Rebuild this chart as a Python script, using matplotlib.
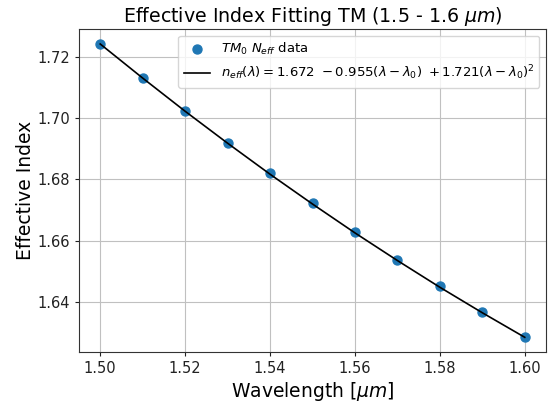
import numpy as np
import matplotlib
matplotlib.use("Agg")
import matplotlib.pyplot as plt

wavelength = [1.50, 1.51, 1.52, 1.53, 1.54, 1.55, 1.56, 1.57, 1.58, 1.59, 1.60]
neff_data = [1.7242, 1.7131, 1.7024, 1.6920, 1.6820, 1.6723, 1.6629, 1.6539, 1.6452, 1.6368, 1.6288]
fit_wavelength = [1.50, 1.51, 1.52, 1.53, 1.54, 1.55, 1.56, 1.57, 1.58, 1.59, 1.60]
fit_values = [1.7241, 1.7130, 1.7022, 1.6918, 1.6817, 1.6720, 1.6626, 1.6536, 1.6449, 1.6366, 1.6286]

fig = plt.figure(figsize=(5.53, 4.03), dpi=100)
ax = fig.add_axes([79/553, 1-352/403, (546-79)/553, (352-29)/403])

ax.scatter(wavelength, neff_data, s=42, color="#1f77b4", zorder=3,
           label=r"$TM_0\ N_{eff}$ data")
ax.plot(fit_wavelength, fit_values, color="black", lw=1.2, zorder=4,
        label=r"$n_{eff}(\lambda) = 1.672\ -0.955(\lambda-\lambda_0)\ +1.721(\lambda-\lambda_0)^2$")

ax.grid(True, color="#c0c0c0", lw=0.8)
ax.set_axisbelow(True)
for s in ax.spines.values():
    s.set_color("#333333")
ax.set_xticks([1.50, 1.52, 1.54, 1.56, 1.58, 1.60])
ax.set_yticks([1.64, 1.66, 1.68, 1.70, 1.72])
ax.xaxis.set_major_formatter(matplotlib.ticker.FormatStrFormatter("%.2f"))
ax.yaxis.set_major_formatter(matplotlib.ticker.FormatStrFormatter("%.2f"))
ax.tick_params(labelsize=10.5, length=3, pad=3.5, colors="#222222")
ax.set_xlabel(r"Wavelength [$\mu m$]", fontsize=13.5, labelpad=3)
ax.set_ylabel("Effective Index", fontsize=13.5, labelpad=1.5)
ax.set_title(r"Effective Index Fitting TM (1.5 - 1.6 $\mu m$)", fontsize=13.7, pad=5)
ax.legend(loc="upper right", fontsize=9.5)

fig.savefig("out.png", dpi=100)
